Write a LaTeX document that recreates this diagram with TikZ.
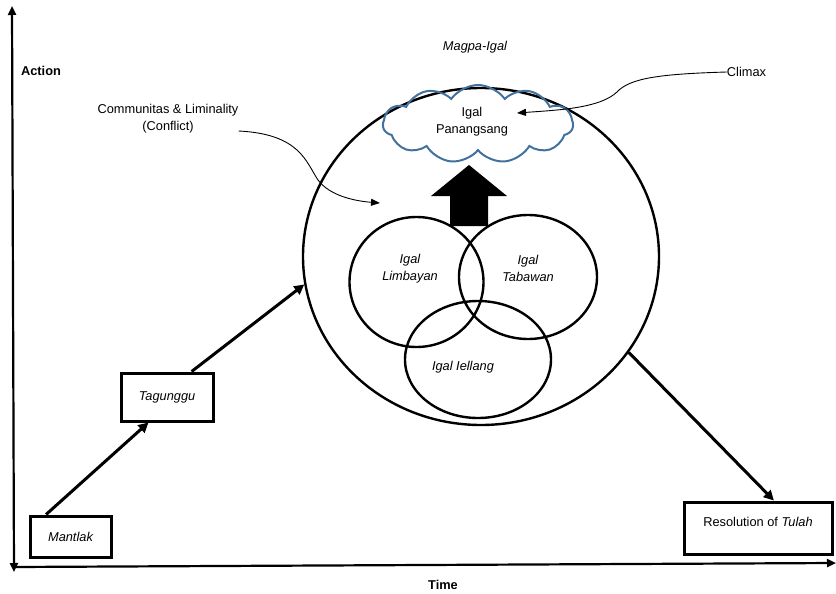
\documentclass[tikz,border=0pt]{standalone}
\usepackage{fontspec}
\setmainfont{Liberation Sans}
\usetikzlibrary{shapes.geometric,shapes.symbols,arrows.meta}
\definecolor{cloudblue}{HTML}{41719C}
\tikzset{
  txt/.style={font=\fontsize{12.8}{17}\selectfont, align=center, inner sep=0pt},
  itxt/.style={txt, font=\fontsize{12.8}{17}\selectfont\itshape},
  btxt/.style={txt, font=\fontsize{12.8}{17}\selectfont\bfseries},
  stagebox/.style={draw, line width=3pt, rectangle, inner sep=0pt, font=\fontsize{12.8}{17}\selectfont\itshape},
  axis/.style={line width=2.2pt, -{Triangle[length=9pt,width=8pt]}},
  flow/.style={line width=3pt, -{Triangle[length=10pt,width=10pt]}},
  thinarrow/.style={line width=0.9pt, -{Triangle[length=9pt,width=7pt]}},
  venn/.style={draw, ellipse, line width=2.4pt, inner sep=0pt},
}
\begin{document}
\begin{tikzpicture}[x=1pt,y=-1pt]
\useasboundingbox (0,0) rectangle (836,594);

% axes
\coordinate (axtop) at (12,6);
\coordinate (axbot) at (14,572);
\coordinate (origin) at (14,567);
\coordinate (axright) at (836,563);
\draw[line width=2.2pt, {Triangle[length=9pt,width=8pt]}-{Triangle[length=9pt,width=8pt]}] (axbot) -- (axtop);
\draw[axis] (origin) -- (axright);
\node[btxt] (action) at (41,71) {Action};
\node[btxt] (time) at (443,585) {Time};

% stage boxes
\node[stagebox, minimum width=81pt, minimum height=41pt] (mant) at (70.5,536.5) {Mantlak};
\node[stagebox, minimum width=92pt, minimum height=48pt] (tag) at (167,397) {Tagunggu};
\node[draw, line width=3pt, rectangle, minimum width=148pt, minimum height=52pt] (res) at (758,528) {};
\node[txt] (restxt) at (758,522) {Resolution of \textit{Tulah}};

% big circle
\node[draw, ellipse, line width=2.4pt, minimum width=356pt, minimum height=337pt, inner sep=0pt] (big) at (481,256.5) {};
\node[itxt] (magpa) at (475,47) {Magpa-Igal};

% cloud
\node[cloud, draw=cloudblue, line width=2pt, cloud puffs=11, cloud puff arc=110, aspect=2.4,
      minimum width=190pt, minimum height=78pt, inner sep=0pt] (cloud) at (478,124) {};
\node[txt] (pan) at (472,121.5) {Igal\\Panangsang};

% block arrow
\fill (450,226) -- (450,196) -- (431,196) -- (469,165) -- (507,196) -- (488,196) -- (488,226) -- cycle;

% venn circles
\node[venn, minimum width=134pt, minimum height=130pt] (lim) at (416.5,282) {};
\node[venn, minimum width=138pt, minimum height=124pt] (tab) at (528,277) {};
\node[venn, minimum width=146pt, minimum height=117pt] (iel) at (478,359.5) {};
\node[itxt] (limtxt) at (410,268.5) {Igal\\Limbayan};
\node[itxt] (tabtxt) at (528,268) {Igal\\Tabawan};
\node[itxt] (ieltxt) at (463,367) {Igal Iellang};

% flow arrows
\draw[flow] (mant.138) -- (tag.234);
\draw[flow] (tag.46) -- (big.189);
\draw[flow] (big.327) -- (res.60);

% annotations
\node[txt] (climax) at (746.5,72) {Climax};
\node[txt] (comm) at (168,119) {Communitas \& Liminality\\(Conflict)};
\coordinate (climaxtip) at (517,113);
\coordinate (commtip) at (380,203);
\draw[thinarrow] (climax.west) .. controls (660,74) and (630,78) .. (617,92)
   .. controls (600,108) and (560,110) .. (climaxtip);
\draw[thinarrow] (comm.east |- 0,131) .. controls (300,134) and (306,162) .. (318,180)
   .. controls (330,196) and (355,201) .. (commtip);
\end{tikzpicture}
\end{document}
